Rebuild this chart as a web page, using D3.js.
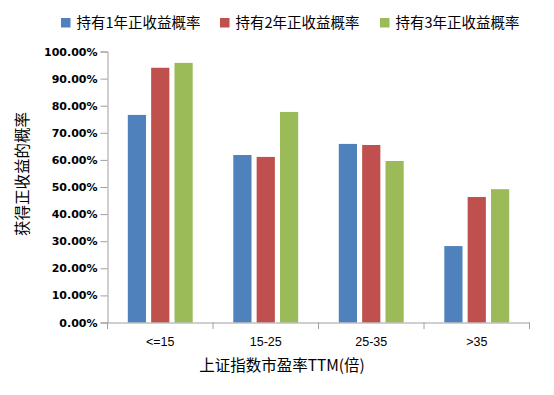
<!DOCTYPE html>
<html>
<head>
<meta charset="utf-8">
<script src="https://cdn.jsdelivr.net/npm/d3@7"></script>
<style>
  body { margin: 0; background: #fff; }
  svg { display: block; }
</style>
</head>
<body>
<div id="chart"></div>
<script>
// data
const categories = ["<=15", "15-25", "25-35", ">35"];
const seriesNames = ["持有1年正收益概率", "持有2年正收益概率", "持有3年正收益概率"];
const hold1Year = [0.766, 0.618, 0.659, 0.282];
const hold2Year = [0.940, 0.611, 0.655, 0.463];
const hold3Year = [0.958, 0.777, 0.596, 0.492];
const yTicks = [0, 0.1, 0.2, 0.3, 0.4, 0.5, 0.6, 0.7, 0.8, 0.9, 1.0];

const colors = ["#4F81BD", "#C0504D", "#9BBB59"];
const seriesValues = [hold1Year, hold2Year, hold3Year];

const width = 554, height = 395;
const plot = { left: 107.5, right: 529.5, top: 51.5, bottom: 322.5 };
const axisColor = "#A0A0A0";

const svg = d3.select("#chart")
  .append("svg")
  .attr("width", width)
  .attr("height", height);

const x0 = d3.scaleBand()
  .domain(categories)
  .range([plot.left, plot.right]);

const groupPad = 20.3;
const x1 = d3.scaleBand()
  .domain(d3.range(seriesNames.length))
  .range([groupPad, x0.bandwidth() - groupPad])
  .paddingInner(0.22);

const y = d3.scaleLinear()
  .domain([0, 1])
  .range([plot.bottom, plot.top]);

// bars
const groups = svg.append("g")
  .selectAll("g")
  .data(categories)
  .join("g")
  .attr("transform", (d) => `translate(${x0(d)},0)`);

groups.selectAll("rect")
  .data((d, i) => seriesValues.map((vals, s) => ({ s, v: vals[i] })))
  .join("rect")
  .attr("x", (d) => x1(d.s))
  .attr("width", x1.bandwidth())
  .attr("y", (d) => y(d.v))
  .attr("height", (d) => y(0) - y(d.v))
  .attr("fill", (d) => colors[d.s]);

// y axis
const yAxis = svg.append("g")
  .attr("transform", `translate(${plot.left},0)`)
  .call(d3.axisLeft(y).tickValues(yTicks).tickFormat(d3.format(".2%")).tickSize(7).tickPadding(3));
yAxis.select(".domain").attr("stroke", axisColor);
yAxis.selectAll(".tick line").attr("stroke", axisColor);
yAxis.selectAll(".tick text")
  .attr("fill", "#000")
  .style("font-family", "'DejaVu Sans', sans-serif")
  .style("font-weight", "bold")
  .style("font-size", "11px");

// x axis: labels centered, ticks at category boundaries
const xAxis = svg.append("g")
  .attr("transform", `translate(0,${plot.bottom})`)
  .call(d3.axisBottom(x0).tickSize(0).tickPadding(15));
xAxis.select(".domain").attr("stroke", axisColor);
xAxis.selectAll(".tick text")
  .attr("fill", "#000")
  .style("font-family", "'Liberation Sans', Arial, sans-serif")
  .style("font-size", "12.5px");

const boundaries = categories.map((c) => x0(c)).concat([plot.right]);
xAxis.selectAll(".bound")
  .data(boundaries)
  .join("line")
  .attr("class", "bound")
  .attr("x1", (d) => d)
  .attr("x2", (d) => d)
  .attr("y1", 0)
  .attr("y2", 6.5)
  .attr("stroke", axisColor);

// axis titles
svg.append("text")
  .attr("x", 282)
  .attr("y", 371)
  .attr("text-anchor", "middle")
  .style("font-family", "'Noto Sans CJK SC', sans-serif")
  .style("font-size", "15.5px")
  .attr("fill", "#000")
  .text("上证指数市盈率TTM(倍)");

svg.append("text")
  .attr("transform", "translate(28,174) rotate(-90)")
  .attr("text-anchor", "middle")
  .style("font-family", "'Noto Sans CJK SC', sans-serif")
  .style("font-size", "15.5px")
  .attr("fill", "#000")
  .text("获得正收益的概率");

// legend
const legendX = [61, 220, 380];
const legend = svg.append("g")
  .selectAll("g")
  .data(seriesNames)
  .join("g")
  .attr("transform", (d, i) => `translate(${legendX[i]},18)`);

legend.append("rect")
  .attr("width", 9.5)
  .attr("height", 9.5)
  .attr("fill", (d, i) => colors[i]);

legend.append("text")
  .attr("x", 15.5)
  .attr("y", 5)
  .attr("dy", "0.35em")
  .style("font-family", "'Noto Sans CJK SC', sans-serif")
  .style("font-size", "14.5px")
  .attr("fill", "#000")
  .text((d) => d);
</script>
</body>
</html>
